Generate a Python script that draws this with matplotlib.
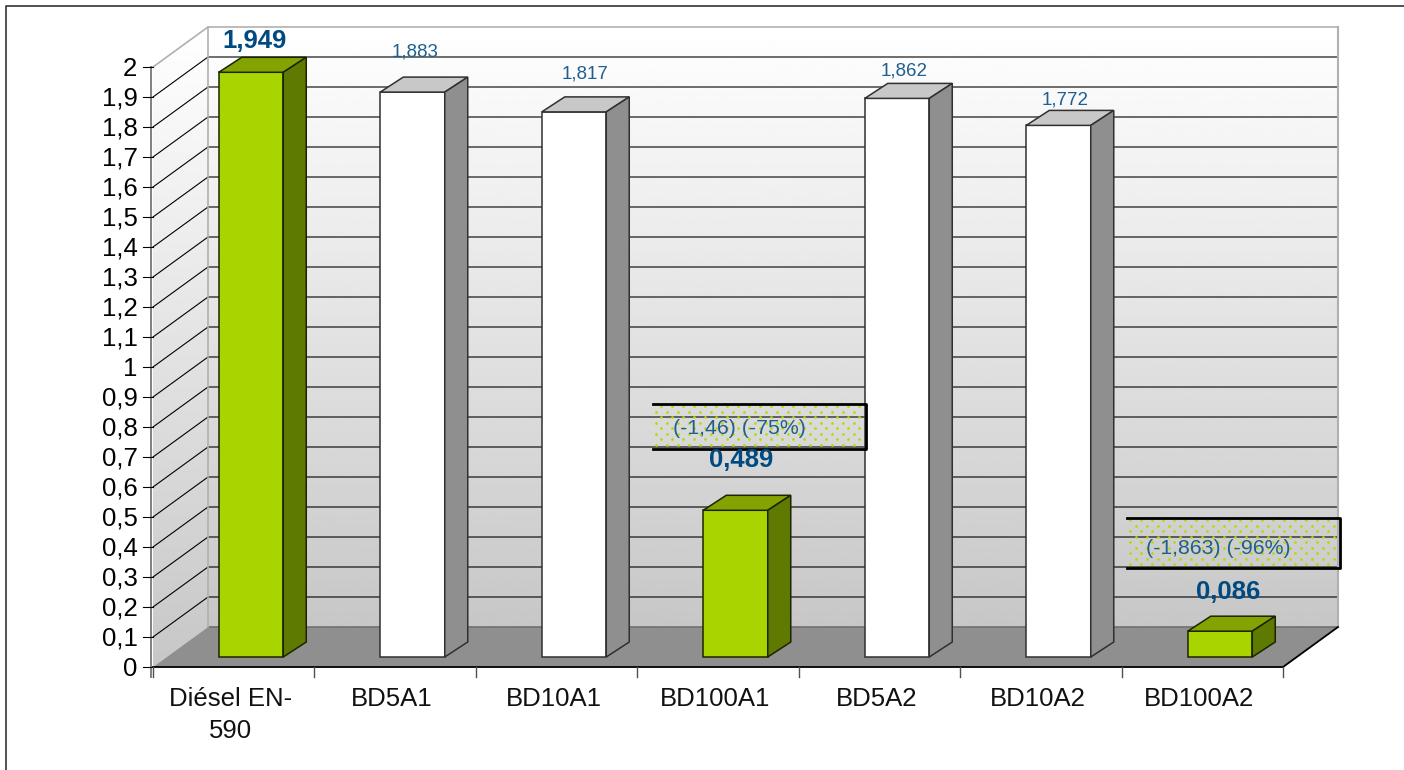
import numpy as np
import matplotlib
matplotlib.use('Agg')
import matplotlib.pyplot as plt
from matplotlib.lines import Line2D
from matplotlib.patches import Polygon

plt.rcParams['font.family'] = ['Liberation Sans', 'DejaVu Sans']

### Values
categories = ['Diésel EN-\n590', 'BD5A1', 'BD10A1', 'BD100A1', 'BD5A2', 'BD10A2', 'BD100A2']
values = [1.949, 1.883, 1.817, 0.489, 1.862, 1.772, 0.086]
value_labels = ['1,949', '1,883', '1,817', '0,489', '1,862', '1,772', '0,086']
highlighted = [True, False, False, True, False, False, True]
y_ticks = [i/10. for i in range(21)]
y_tick_labels = ['0', '0,1', '0,2', '0,3', '0,4', '0,5', '0,6', '0,7', '0,8', '0,9', '1',
                 '1,1', '1,2', '1,3', '1,4', '1,5', '1,6', '1,7', '1,8', '1,9', '2']
box_texts = ['(-1,46) (-75%)', '(-1,863) (-96%)']

### Pixel scales of the front plane
px_cat = 161.43
px_val = 300.
x0_px, y0_px = 153., 667.
depth_x = 55./px_cat   # wall depth in data units
depth_y = 40./px_val
n_cat = len(categories)
ymax = 2.0

fig = plt.figure(figsize=(14.04, 7.7), dpi=100, facecolor='white')
ax = fig.add_axes([0, 0, 1, 1])
ax.axis('off')

### Gradient walls
grad = np.linspace(1.0, 0.78, 256)[:, np.newaxis]
back_ext = [depth_x, n_cat+depth_x, depth_y, ymax+depth_y]
ax.imshow(grad, cmap='gray', vmin=0, vmax=1, extent=back_ext, aspect='auto', zorder=1)
side = ax.imshow(grad, cmap='gray', vmin=0, vmax=1, extent=[0, depth_x, 0, ymax+depth_y],
                 aspect='auto', zorder=1)
side_poly = Polygon([(0, 0), (depth_x, depth_y), (depth_x, ymax+depth_y), (0, ymax)],
                    closed=True, fc='none', ec='none', transform=ax.transData)
ax.add_patch(side_poly)
side.set_clip_path(side_poly)
ax.set_xlim(-x0_px/px_cat, (1404-x0_px)/px_cat)
ax.set_ylim(-(770-y0_px)/px_val, y0_px/px_val)

### Floor
ax.add_patch(Polygon([(0, 0), (n_cat, 0), (n_cat+depth_x, depth_y), (depth_x, depth_y)],
                     closed=True, fc='#8f8f8f', ec='none', zorder=2))
ax.plot([0, n_cat, n_cat+depth_x], [0, 0, depth_y], color='black', lw=1.3, zorder=3)
ax.plot([depth_x, n_cat+depth_x], [depth_y, depth_y], color='#707070', lw=1.2, zorder=2)

### Grid lines on the walls
for v in y_ticks[1:-1]:
    ax.plot([0, depth_x, n_cat+depth_x], [v, v+depth_y, v+depth_y], color='black', lw=0.8, zorder=2)
ax.plot([0, depth_x, n_cat+depth_x], [ymax, ymax+depth_y, ymax+depth_y], color='#b0b0b0', lw=1.2, zorder=2)
ax.plot([depth_x, depth_x], [depth_y, ymax+depth_y], color='#b0b0b0', lw=1.2, zorder=2)
ax.plot([n_cat+depth_x, n_cat+depth_x], [depth_y, ymax+depth_y], color='#b0b0b0', lw=1.5, zorder=2)

### Axes lines, ticks and labels
ax.plot([-2/px_cat, -2/px_cat], [-10/px_val, ymax], color='#808080', lw=1.4, zorder=3)
for v, lab in zip(y_ticks, y_tick_labels):
    ax.plot([-10/px_cat, 0], [v, v], color='black', lw=0.8, zorder=3)
    ax.text(-15.5/px_cat, v+1/px_val, lab, ha='right', va='center_baseline', fontsize=18.5, color='black')
for i in range(n_cat+1):
    ax.plot([i, i], [-10/px_val, 0], color='#505050', lw=1.0, zorder=3)
for i, lab in enumerate(categories):
    ax.text(i+0.5-3/px_cat, -20/px_val, lab, ha='center', va='top', fontsize=18.5,
            color='#111111', linespacing=1.4)

### Bars: front face from ax.bar, top and side as polygons
bar_x = [(251+161.5*i-x0_px)/px_cat for i in range(n_cat)]
bar_w = 64.5/px_cat
bar_dx, bar_dy = 23/px_cat, 15/px_val
bar_base = 10/px_val
for i in range(n_cat):
    front = '#a8d400' if highlighted[i] else 'white'
    top = '#84a300' if highlighted[i] else '#c8c8c8'
    sidec = '#5f7a00' if highlighted[i] else '#8f8f8f'
    edge = '#1c2400' if highlighted[i] else '#303030'
    l, r = bar_x[i]-bar_w/2, bar_x[i]+bar_w/2
    t = values[i]+bar_base
    ax.bar(bar_x[i], values[i], width=bar_w, bottom=bar_base, color=front, edgecolor=edge, lw=1.1, zorder=4)
    ax.add_patch(Polygon([(l, t), (r, t), (r+bar_dx, t+bar_dy), (l+bar_dx, t+bar_dy)],
                         closed=True, fc=top, ec=edge, lw=1.1, zorder=4))
    ax.add_patch(Polygon([(r, bar_base), (r+bar_dx, bar_base+bar_dy), (r+bar_dx, t+bar_dy), (r, t)],
                         closed=True, fc=sidec, ec=edge, lw=1.1, zorder=4))

### Value labels (offset from bar top, pixels)
label_dx = [3, 3, 11, 6, 7, 7, 8]
label_dy = [31, 40, 38, 50, 27, 25, 39]
for i in range(n_cat):
    bold = highlighted[i]
    ax.text(bar_x[i]+label_dx[i]/px_cat, values[i]+bar_base+label_dy[i]/px_val, value_labels[i],
            ha='center', va='center', color='#004a80' if bold else '#1f5f8f',
            fontsize=18.5 if bold else 13.5, fontweight='bold' if bold else 'normal', zorder=6)

### Dotted difference boxes, staggered dots 11 x 5.5 px
box_x = [(3.097, 4.417), (6.034, 7.353)]
box_y = [(0.727, 0.877), (0.330, 0.497)]
box_text_pos = [(3.63, 0.795), (6.597, 0.395)]
for (x1, x2), (y1, y2), txt, pos in zip(box_x, box_y, box_texts, box_text_pos):
    dot_x, dot_y = [], []
    rows = np.arange(y1+4/px_val, y2-2/px_val, 5.5/px_val)
    for n, yy in enumerate(rows):
        xx = np.arange(x1+(3+5.5*(n % 2))/px_cat, x2-2/px_cat, 11/px_cat)
        dot_x.extend(xx)
        dot_y.extend([yy]*len(xx))
    ax.scatter(dot_x, dot_y, s=3.8, marker='o', color='#b0dc00', linewidths=0, zorder=5)
    ax.plot([x1, x2, x2, x1], [y2, y2, y1, y1], color='black', lw=2.0, zorder=5)
    ax.text(pos[0], pos[1], txt, ha='center', va='center', fontsize=15.3, color='#1f5f8f', zorder=6)

### Picture frame: only left and top edges show in the original
fig.add_artist(Line2D([5.5/1404, 5.5/1404, 1], [0, 1-5.5/770, 1-5.5/770],
                      transform=fig.transFigure, color='#333333', lw=1.2))

fig.savefig('out.png', dpi=100)
